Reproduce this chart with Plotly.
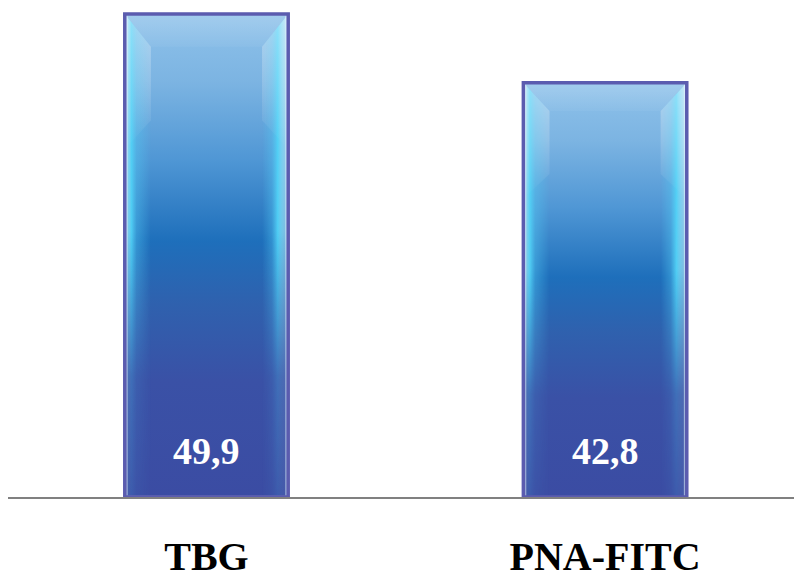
import base64
import plotly.graph_objects as go

# Data
categories = ["TBG", "PNA-FITC"]
values = [49.9, 42.8]
value_labels = [f"{v:.1f}".replace(".", ",") for v in values]

BAR_WIDTH = 0.41
BORDER = "#5b5caf"

# Bevelled glass texture for the bar faces (normalised 100 x 1000 box, stretched)
svg = """<svg xmlns="http://www.w3.org/2000/svg" width="100" height="1000" viewBox="0 0 100 1000" preserveAspectRatio="none">
<defs>
<linearGradient id="body" x1="0" y1="0" x2="0" y2="1">
<stop offset="0" stop-color="#8fc2ea"/>
<stop offset="0.14" stop-color="#7cb4e2"/>
<stop offset="0.30" stop-color="#5097d5"/>
<stop offset="0.47" stop-color="#1e6fbb"/>
<stop offset="0.60" stop-color="#2f61ae"/>
<stop offset="0.76" stop-color="#3a51a6"/>
<stop offset="1" stop-color="#3b4ca3"/>
</linearGradient>
<linearGradient id="lside" x1="0" y1="0" x2="1" y2="0">
<stop offset="0" stop-color="#d4f0f8" stop-opacity="0.6"/>
<stop offset="0.25" stop-color="#52d2f6" stop-opacity="0.95"/>
<stop offset="0.45" stop-color="#52c8f2" stop-opacity="0.45"/>
<stop offset="1" stop-color="#52c8f2" stop-opacity="0"/>
</linearGradient>
<linearGradient id="rside" x1="1" y1="0" x2="0" y2="0">
<stop offset="0" stop-color="#d4f0f8" stop-opacity="0.5"/>
<stop offset="0.4" stop-color="#52d2f6" stop-opacity="0.95"/>
<stop offset="0.62" stop-color="#52c8f2" stop-opacity="0.4"/>
<stop offset="1" stop-color="#52c8f2" stop-opacity="0"/>
</linearGradient>
<linearGradient id="fade" x1="0" y1="0" x2="0" y2="1">
<stop offset="0" stop-color="#ffffff"/>
<stop offset="0.45" stop-color="#ffffff"/>
<stop offset="0.75" stop-color="#404040"/>
<stop offset="1" stop-color="#202020"/>
</linearGradient>
<linearGradient id="corner" x1="0" y1="0" x2="0" y2="1">
<stop offset="0" stop-color="#ffffff" stop-opacity="0.35"/>
<stop offset="1" stop-color="#ffffff" stop-opacity="0"/>
</linearGradient>
<linearGradient id="topb" x1="0" y1="0" x2="0" y2="1">
<stop offset="0" stop-color="#ffffff" stop-opacity="0.18"/>
<stop offset="1" stop-color="#ffffff" stop-opacity="0.04"/>
</linearGradient>
<mask id="m"><rect x="0" y="0" width="100" height="1000" fill="url(#fade)"/></mask>
</defs>
<rect x="0" y="0" width="100" height="1000" fill="url(#body)"/>
<g mask="url(#m)">
<polygon points="0,0 16,68 16,1000 0,1000" fill="url(#lside)"/>
<polygon points="100,0 84,68 84,1000 100,1000" fill="url(#rside)"/>
</g>
<polygon points="0,0 16,68 16,220 0,280" fill="url(#corner)"/>
<polygon points="100,0 84,68 84,220 100,280" fill="url(#corner)"/>
<polygon points="0,0 100,0 84,68 16,68" fill="url(#topb)"/>
<rect x="1.2" y="2" width="97.6" height="996" fill="none" stroke="#e4f4fb" stroke-opacity="0.55" stroke-width="1.2" vector-effect="non-scaling-stroke"/>
</svg>"""
texture = "data:image/svg+xml;base64," + base64.b64encode(svg.encode()).decode()

xs = list(range(len(categories)))

fig = go.Figure()
fig.add_trace(go.Bar(
    x=xs, y=values, width=BAR_WIDTH,
    marker=dict(color="rgba(0,0,0,0)", line=dict(color=BORDER, width=3.5)),
    hoverinfo="skip", showlegend=False,
))

for i, v in zip(xs, values):
    fig.add_layout_image(dict(
        source=texture, xref="x", yref="y",
        x=i - BAR_WIDTH / 2, y=v, sizex=BAR_WIDTH, sizey=v,
        xanchor="left", yanchor="top", sizing="stretch", layer="below",
    ))

for i, lab in zip(xs, value_labels):
    fig.add_annotation(
        x=i, y=0, xref="x", yref="y", text=f"<b>{lab}</b>", showarrow=False,
        yanchor="middle", yshift=46,
        font=dict(family="Liberation Serif", size=38, color="white"),
    )

fig.update_layout(
    width=794, height=574,
    margin=dict(l=8, r=0, t=0, b=77, autoexpand=False),
    paper_bgcolor="white", plot_bgcolor="white",
    xaxis=dict(
        range=[-0.498, 1.474], tickvals=xs, ticktext=[f"<b>{c}</b>" for c in categories],
        showgrid=False, zeroline=False, showline=True, linecolor="#808080", linewidth=2,
        ticks="", ticklabelstandoff=23, automargin=False,
        tickfont=dict(family="Liberation Serif", size=40, color="black"),
    ),
    yaxis=dict(range=[0, 51.35], visible=False, automargin=False),
)

fig.write_html("out.html")
